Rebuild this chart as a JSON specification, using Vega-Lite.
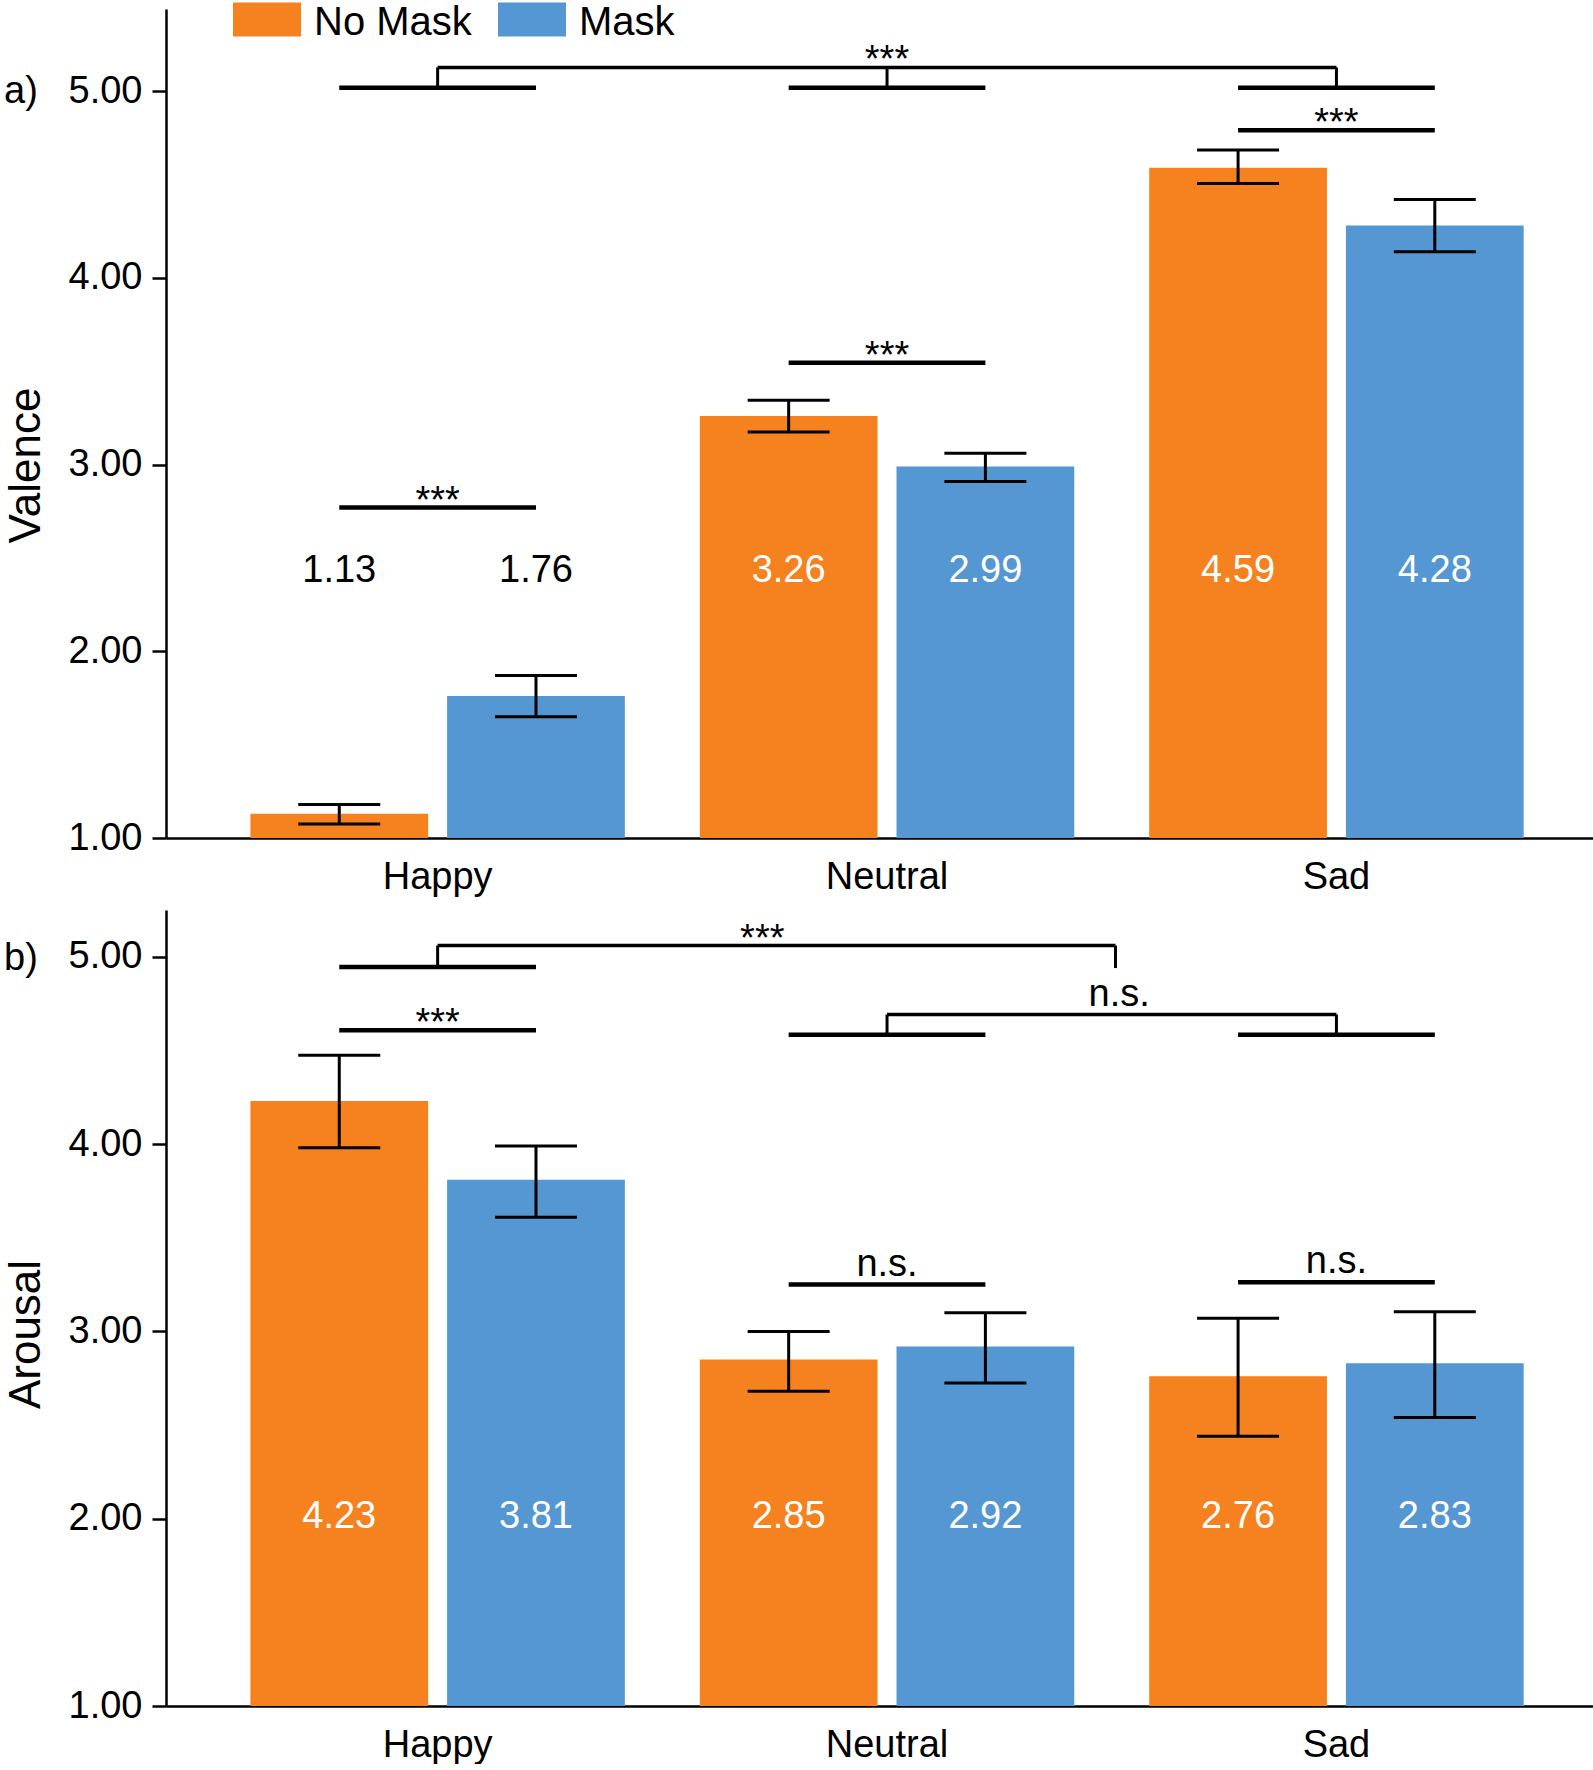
{
  "$schema": "https://vega.github.io/schema/vega-lite/v6.json",
  "padding": {"left": 4, "top": 3, "right": 0, "bottom": 0},
  "config": {
    "font": "Liberation Sans",
    "view": {"stroke": null},
    "axis": {"grid": false, "domainColor": "black", "domainWidth": 2.5, "tickColor": "black", "tickWidth": 2.5, "labelColor": "black", "titleColor": "black", "labelFont": "Liberation Sans", "titleFont": "Liberation Sans"},
    "title": {"font": "Liberation Sans", "fontWeight": "normal", "color": "black"},
    "legend": {"orient": "none", "legendX": 81, "legendY": -6, "direction": "horizontal", "symbolType": "M-2,-1.2H2V0.8H-2Z", "symbolSize": 1156, "symbolStrokeWidth": 0, "symbolOpacity": 1, "labelFontSize": 40, "labelFont": "Liberation Sans", "labelColor": "black", "labelOffset": 27, "columnPadding": 26, "padding": 0}
  },
  "datasets": {
    "valence": [
      {"emotion": "Happy", "condition": "No Mask", "mean": 1.13, "lo": 1.075, "hi": 1.18},
      {"emotion": "Happy", "condition": "Mask", "mean": 1.76, "lo": 1.65, "hi": 1.87},
      {"emotion": "Neutral", "condition": "No Mask", "mean": 3.26, "lo": 3.175, "hi": 3.345},
      {"emotion": "Neutral", "condition": "Mask", "mean": 2.99, "lo": 2.91, "hi": 3.06},
      {"emotion": "Sad", "condition": "No Mask", "mean": 4.59, "lo": 4.505, "hi": 4.685},
      {"emotion": "Sad", "condition": "Mask", "mean": 4.28, "lo": 4.14, "hi": 4.42}
    ],
    "arousal": [
      {"emotion": "Happy", "condition": "No Mask", "mean": 4.23, "lo": 3.98, "hi": 4.475},
      {"emotion": "Happy", "condition": "Mask", "mean": 3.81, "lo": 3.61, "hi": 3.99},
      {"emotion": "Neutral", "condition": "No Mask", "mean": 2.85, "lo": 2.68, "hi": 3.0},
      {"emotion": "Neutral", "condition": "Mask", "mean": 2.92, "lo": 2.725, "hi": 3.1},
      {"emotion": "Sad", "condition": "No Mask", "mean": 2.76, "lo": 2.44, "hi": 3.07},
      {"emotion": "Sad", "condition": "Mask", "mean": 2.83, "lo": 2.54, "hi": 3.105}
    ],
    "valencePairs": [
      {"emotion": "Happy", "level": 2.77, "label": "***"},
      {"emotion": "Neutral", "level": 3.545, "label": "***"},
      {"emotion": "Sad", "level": 4.79, "label": "***"}
    ],
    "valenceGroups": [
      {"emotion": "Happy", "lower": 5.018, "upper": 5.127},
      {"emotion": "Neutral", "lower": 5.018, "upper": 5.127},
      {"emotion": "Sad", "lower": 5.018, "upper": 5.127}
    ],
    "valenceLinks": [
      {"from": "Happy", "to": "Sad", "level": 5.127, "label": "***"}
    ],
    "arousalPairs": [
      {"emotion": "Happy", "level": 4.608, "label": "***"},
      {"emotion": "Neutral", "level": 3.25, "label": "n.s."},
      {"emotion": "Sad", "level": 3.262, "label": "n.s."}
    ],
    "arousalGroups": [
      {"emotion": "Happy", "lower": 4.946, "upper": 5.06},
      {"emotion": "Neutral", "lower": 4.584, "upper": 4.692},
      {"emotion": "Sad", "lower": 4.584, "upper": 4.692}
    ],
    "arousalLinks": [
      {"from": "Neutral", "to": "Sad", "level": 4.692, "drop": 4.692, "label": "n.s."},
      {"from": "Happy", "to": "Neutral", "level": 5.06, "drop": 4.94, "label": "***"}
    ]
  },
  "spacing": 14,
  "vconcat": [
    {
      "width": 1427,
      "height": 829,
      "title": {"text": "a)", "anchor": "start", "frame": "bounds", "orient": "top", "fontSize": 38, "baseline": "middle", "offset": 0, "dy": 121},
      "layer": [
        {
          "data": {"name": "valence"},
          "mark": {"type": "bar"},
          "encoding": {
            "x": {"field": "emotion", "type": "nominal", "sort": ["Happy", "Neutral", "Sad"], "scale": {"paddingInner": 0.1667, "paddingOuter": 0.171, "align": 0.549}, "axis": {"title": null, "ticks": false, "tickSize": 0, "labelFontSize": 38, "labelPadding": 20, "labelAngle": 0}},
            "xOffset": {"field": "condition", "type": "nominal", "sort": ["No Mask", "Mask"], "scale": {"paddingInner": 0.0964, "paddingOuter": 0}},
            "y": {"field": "mean", "type": "quantitative", "scale": {"domain": [1, 5.44], "nice": false, "zero": false}, "axis": {"values": [1, 2, 3, 4, 5], "format": ".2f", "labelFontSize": 38, "tickSize": 14, "labelPadding": 10, "title": "Valence", "titleFontSize": 44, "titleFontWeight": "normal", "titlePadding": 20, "titleY": 456}},
            "y2": {"datum": 1},
            "color": {"field": "condition", "type": "nominal", "sort": ["No Mask", "Mask"], "scale": {"domain": ["No Mask", "Mask"], "range": ["#F5821F", "#5597D3"]}, "legend": {"title": null}}
          }
        },
        {
          "data": {"name": "valence"},
          "mark": {"type": "rule", "color": "black", "strokeWidth": 3},
          "encoding": {
            "x": {"field": "emotion", "type": "nominal", "sort": ["Happy", "Neutral", "Sad"]},
            "xOffset": {"field": "condition", "type": "nominal", "sort": ["No Mask", "Mask"]},
            "y": {"field": "lo", "type": "quantitative"},
            "y2": {"field": "hi"}
          }
        },
        {
          "data": {"name": "valence"},
          "mark": {"type": "tick", "orient": "horizontal", "color": "black", "size": 82, "thickness": 3, "opacity": 1},
          "encoding": {
            "x": {"field": "emotion", "type": "nominal", "sort": ["Happy", "Neutral", "Sad"]},
            "xOffset": {"field": "condition", "type": "nominal", "sort": ["No Mask", "Mask"]},
            "y": {"field": "lo", "type": "quantitative"}
          }
        },
        {
          "data": {"name": "valence"},
          "mark": {"type": "tick", "orient": "horizontal", "color": "black", "size": 82, "thickness": 3, "opacity": 1},
          "encoding": {
            "x": {"field": "emotion", "type": "nominal", "sort": ["Happy", "Neutral", "Sad"]},
            "xOffset": {"field": "condition", "type": "nominal", "sort": ["No Mask", "Mask"]},
            "y": {"field": "hi", "type": "quantitative"}
          }
        },
        {
          "data": {"name": "valence"},
          "mark": {"type": "text", "fontSize": 38, "baseline": "middle"},
          "encoding": {
            "x": {"field": "emotion", "type": "nominal", "sort": ["Happy", "Neutral", "Sad"]},
            "xOffset": {"field": "condition", "type": "nominal", "sort": ["No Mask", "Mask"]},
            "y": {"datum": 2.43, "type": "quantitative"},
            "text": {"field": "mean", "type": "quantitative", "format": ".2f"},
            "color": {"condition": {"test": "datum.mean < 2", "value": "black"}, "value": "white"}
          }
        },
        {
          "data": {"name": "valencePairs"},
          "mark": {"type": "rule", "color": "black", "strokeWidth": 4.5},
          "encoding": {
            "x": {"field": "emotion", "type": "nominal", "sort": ["Happy", "Neutral", "Sad"], "bandPosition": 0.2373},
            "x2": {"field": "emotion", "bandPosition": 0.7627},
            "y": {"field": "level", "type": "quantitative"}
          }
        },
        {
          "data": {"name": "valencePairs"},
          "mark": {"type": "text", "fontSize": 38, "baseline": "alphabetic", "dy": 5, "color": "black"},
          "encoding": {
            "x": {"field": "emotion", "type": "nominal", "sort": ["Happy", "Neutral", "Sad"]},
            "y": {"field": "level", "type": "quantitative"},
            "text": {"field": "label"}
          }
        },
        {
          "data": {"name": "valenceGroups"},
          "mark": {"type": "rule", "color": "black", "strokeWidth": 4.5},
          "encoding": {
            "x": {"field": "emotion", "type": "nominal", "sort": ["Happy", "Neutral", "Sad"], "bandPosition": 0.2373},
            "x2": {"field": "emotion", "bandPosition": 0.7627},
            "y": {"field": "lower", "type": "quantitative"}
          }
        },
        {
          "data": {"name": "valenceGroups"},
          "mark": {"type": "rule", "color": "black", "strokeWidth": 3},
          "encoding": {
            "x": {"field": "emotion", "type": "nominal", "sort": ["Happy", "Neutral", "Sad"]},
            "y": {"field": "lower", "type": "quantitative"},
            "y2": {"field": "upper"}
          }
        },
        {
          "data": {"name": "valenceLinks"},
          "mark": {"type": "rule", "color": "black", "strokeWidth": 3.5},
          "encoding": {
            "x": {"field": "from", "type": "nominal", "sort": ["Happy", "Neutral", "Sad"]},
            "x2": {"field": "to"},
            "y": {"field": "level", "type": "quantitative"}
          }
        },
        {
          "data": {"name": "valenceLinks"},
          "mark": {"type": "text", "fontSize": 38, "baseline": "alphabetic", "dy": 5, "color": "black"},
          "encoding": {
            "x": {"field": "from", "type": "nominal", "sort": ["Happy", "Neutral", "Sad"], "bandPosition": 1.7},
            "y": {"field": "level", "type": "quantitative"},
            "text": {"field": "label"}
          }
        }
      ]
    },
    {
      "width": 1427,
      "height": 796,
      "title": {"text": "b)", "anchor": "start", "frame": "bounds", "orient": "top", "fontSize": 38, "baseline": "middle", "offset": 0, "dy": 87},
      "layer": [
        {
          "data": {"name": "arousal"},
          "mark": {"type": "bar"},
          "encoding": {
            "x": {"field": "emotion", "type": "nominal", "sort": ["Happy", "Neutral", "Sad"], "scale": {"paddingInner": 0.1667, "paddingOuter": 0.171, "align": 0.549}, "axis": {"title": null, "ticks": false, "tickSize": 0, "labelFontSize": 38, "labelPadding": 20, "labelAngle": 0}},
            "xOffset": {"field": "condition", "type": "nominal", "sort": ["No Mask", "Mask"], "scale": {"paddingInner": 0.0964, "paddingOuter": 0}},
            "y": {"field": "mean", "type": "quantitative", "scale": {"domain": [1, 5.25], "nice": false, "zero": false}, "axis": {"values": [1, 2, 3, 4, 5], "format": ".2f", "labelFontSize": 38, "tickSize": 14, "labelPadding": 10, "title": "Arousal", "titleFontSize": 44, "titleFontWeight": "normal", "titlePadding": 20, "titleY": 424}},
            "y2": {"datum": 1},
            "color": {"field": "condition", "type": "nominal", "sort": ["No Mask", "Mask"], "scale": {"domain": ["No Mask", "Mask"], "range": ["#F5821F", "#5597D3"]}, "legend": {"title": null}}
          }
        },
        {
          "data": {"name": "arousal"},
          "mark": {"type": "rule", "color": "black", "strokeWidth": 3},
          "encoding": {
            "x": {"field": "emotion", "type": "nominal", "sort": ["Happy", "Neutral", "Sad"]},
            "xOffset": {"field": "condition", "type": "nominal", "sort": ["No Mask", "Mask"]},
            "y": {"field": "lo", "type": "quantitative"},
            "y2": {"field": "hi"}
          }
        },
        {
          "data": {"name": "arousal"},
          "mark": {"type": "tick", "orient": "horizontal", "color": "black", "size": 82, "thickness": 3, "opacity": 1},
          "encoding": {
            "x": {"field": "emotion", "type": "nominal", "sort": ["Happy", "Neutral", "Sad"]},
            "xOffset": {"field": "condition", "type": "nominal", "sort": ["No Mask", "Mask"]},
            "y": {"field": "lo", "type": "quantitative"}
          }
        },
        {
          "data": {"name": "arousal"},
          "mark": {"type": "tick", "orient": "horizontal", "color": "black", "size": 82, "thickness": 3, "opacity": 1},
          "encoding": {
            "x": {"field": "emotion", "type": "nominal", "sort": ["Happy", "Neutral", "Sad"]},
            "xOffset": {"field": "condition", "type": "nominal", "sort": ["No Mask", "Mask"]},
            "y": {"field": "hi", "type": "quantitative"}
          }
        },
        {
          "data": {"name": "arousal"},
          "mark": {"type": "text", "fontSize": 38, "baseline": "middle"},
          "encoding": {
            "x": {"field": "emotion", "type": "nominal", "sort": ["Happy", "Neutral", "Sad"]},
            "xOffset": {"field": "condition", "type": "nominal", "sort": ["No Mask", "Mask"]},
            "y": {"datum": 2.01, "type": "quantitative"},
            "text": {"field": "mean", "type": "quantitative", "format": ".2f"},
            "color": {"condition": {"test": "datum.mean < 2", "value": "black"}, "value": "white"}
          }
        },
        {
          "data": {"name": "arousalPairs"},
          "mark": {"type": "rule", "color": "black", "strokeWidth": 4.5},
          "encoding": {
            "x": {"field": "emotion", "type": "nominal", "sort": ["Happy", "Neutral", "Sad"], "bandPosition": 0.2373},
            "x2": {"field": "emotion", "bandPosition": 0.7627},
            "y": {"field": "level", "type": "quantitative"}
          }
        },
        {
          "data": {"name": "arousalPairs"},
          "transform": [{"filter": "datum.label === '***'"}],
          "mark": {"type": "text", "fontSize": 38, "baseline": "alphabetic", "dy": 5, "color": "black"},
          "encoding": {
            "x": {"field": "emotion", "type": "nominal", "sort": ["Happy", "Neutral", "Sad"]},
            "y": {"field": "level", "type": "quantitative"},
            "text": {"field": "label"}
          }
        },
        {
          "data": {"name": "arousalPairs"},
          "transform": [{"filter": "datum.label === 'n.s.'"}],
          "mark": {"type": "text", "fontSize": 38, "baseline": "alphabetic", "dy": -9, "color": "black"},
          "encoding": {
            "x": {"field": "emotion", "type": "nominal", "sort": ["Happy", "Neutral", "Sad"]},
            "y": {"field": "level", "type": "quantitative"},
            "text": {"field": "label"}
          }
        },
        {
          "data": {"name": "arousalGroups"},
          "mark": {"type": "rule", "color": "black", "strokeWidth": 4.5},
          "encoding": {
            "x": {"field": "emotion", "type": "nominal", "sort": ["Happy", "Neutral", "Sad"], "bandPosition": 0.2373},
            "x2": {"field": "emotion", "bandPosition": 0.7627},
            "y": {"field": "lower", "type": "quantitative"}
          }
        },
        {
          "data": {"name": "arousalGroups"},
          "mark": {"type": "rule", "color": "black", "strokeWidth": 3},
          "encoding": {
            "x": {"field": "emotion", "type": "nominal", "sort": ["Happy", "Neutral", "Sad"]},
            "y": {"field": "lower", "type": "quantitative"},
            "y2": {"field": "upper"}
          }
        },
        {
          "data": {"name": "arousalLinks"},
          "transform": [{"filter": "datum.to === 'Sad'"}],
          "mark": {"type": "rule", "color": "black", "strokeWidth": 3.5},
          "encoding": {
            "x": {"field": "from", "type": "nominal", "sort": ["Happy", "Neutral", "Sad"]},
            "x2": {"field": "to"},
            "y": {"field": "level", "type": "quantitative"}
          }
        },
        {
          "data": {"name": "arousalLinks"},
          "transform": [{"filter": "datum.to === 'Sad'"}],
          "mark": {"type": "text", "fontSize": 38, "baseline": "alphabetic", "dy": -9, "color": "black"},
          "encoding": {
            "x": {"field": "from", "type": "nominal", "sort": ["Happy", "Neutral", "Sad"], "bandPosition": 1.12},
            "y": {"field": "level", "type": "quantitative"},
            "text": {"field": "label"}
          }
        },
        {
          "data": {"name": "arousalLinks"},
          "transform": [{"filter": "datum.from === 'Happy'"}],
          "mark": {"type": "rule", "color": "black", "strokeWidth": 3.5},
          "encoding": {
            "x": {"field": "from", "type": "nominal", "sort": ["Happy", "Neutral", "Sad"]},
            "x2": {"field": "to", "bandPosition": 1.11},
            "y": {"field": "level", "type": "quantitative"}
          }
        },
        {
          "data": {"name": "arousalLinks"},
          "transform": [{"filter": "datum.from === 'Happy'"}],
          "mark": {"type": "rule", "color": "black", "strokeWidth": 3},
          "encoding": {
            "x": {"field": "to", "type": "nominal", "sort": ["Happy", "Neutral", "Sad"], "bandPosition": 1.11},
            "y": {"field": "level", "type": "quantitative"},
            "y2": {"field": "drop"}
          }
        },
        {
          "data": {"name": "arousalLinks"},
          "transform": [{"filter": "datum.from === 'Happy'"}],
          "mark": {"type": "text", "fontSize": 38, "baseline": "alphabetic", "dy": 5, "color": "black"},
          "encoding": {
            "x": {"field": "from", "type": "nominal", "sort": ["Happy", "Neutral", "Sad"], "bandPosition": 1.367},
            "y": {"field": "level", "type": "quantitative"},
            "text": {"field": "label"}
          }
        }
      ]
    }
  ]
}
